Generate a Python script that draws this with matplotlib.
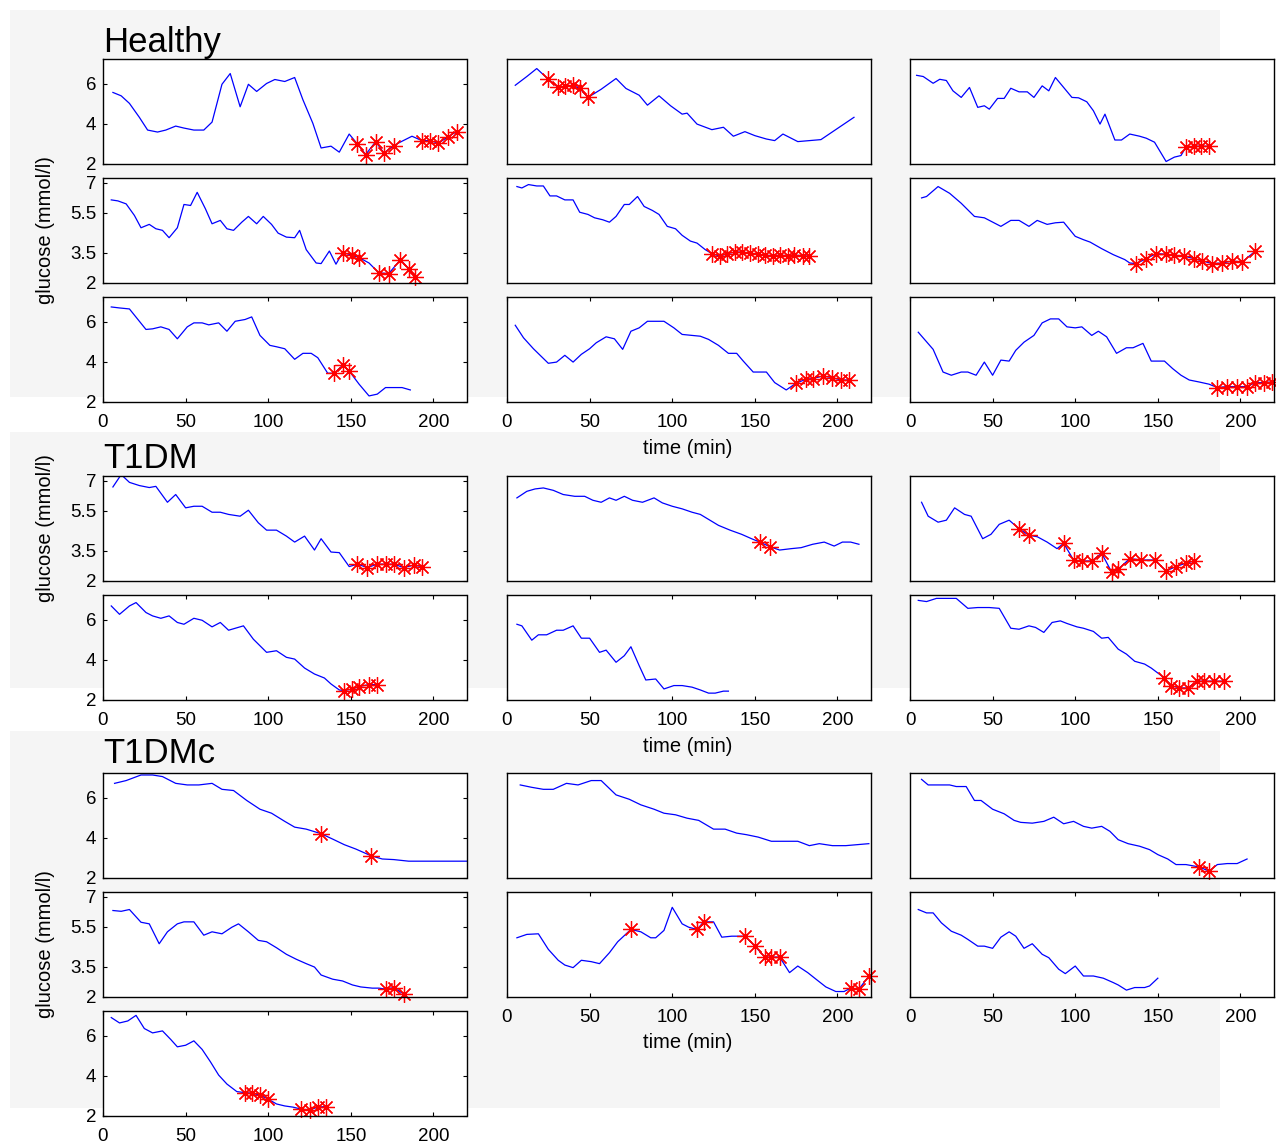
import matplotlib
matplotlib.use("Agg")
import matplotlib.pyplot as plt
from matplotlib.patches import Rectangle

plt.rcParams['font.family'] = ['Liberation Sans', 'DejaVu Sans']

# ---------------- data (time in min, glucose in mmol/l) ----------------
# Healthy
h1_t = [6, 11, 16, 22, 27, 33, 38, 44, 49, 55, 61, 66, 72, 77, 83, 88, 93, 99, 104, 110,
        116, 121, 127, 132, 138, 143, 149, 154, 159, 165, 170, 176, 181, 187, 193, 198, 203, 209, 214]
h1_g = [5.57, 5.4, 5.02, 4.32, 3.68, 3.58, 3.68, 3.88, 3.78, 3.68, 3.68, 4.08, 5.98, 6.52, 4.85, 5.98,
        5.62, 6.02, 6.22, 6.12, 6.32, 5.2, 4.02, 2.78, 2.87, 2.57, 3.48, 2.98, 2.45, 3.1, 2.53, 2.9,
        3.12, 3.37, 3.15, 3.15, 3.02, 3.35, 3.6]
h1_s = [154, 159, 165, 170, 176, 193, 198, 203, 209, 214]

h2_t = [5, 12, 18, 25, 31, 35, 40, 44, 49, 57, 66, 72, 80, 85, 92, 99, 106, 109, 115, 124,
        131, 137, 144, 150, 157, 162, 167, 176, 183, 190, 210]
h2_g = [5.93, 6.37, 6.77, 6.23, 5.82, 5.87, 5.93, 5.77, 5.32, 5.73, 6.27, 5.77, 5.43, 4.93, 5.4,
        4.9, 4.48, 4.53, 3.98, 3.7, 3.82, 3.37, 3.6, 3.4, 3.23, 3.15, 3.48, 3.1, 3.15, 3.2, 4.32]
h2_s = [25, 31, 35, 40, 44, 49]

h3_t = [4, 8, 14, 18, 22, 26, 31, 36, 41, 45, 48, 53, 57, 61, 66, 71, 75, 80, 84, 88, 93, 98,
        102, 107, 111, 115, 118, 124, 128, 133, 139, 143, 148, 155, 160, 164, 167, 172, 176, 181]
h3_g = [6.43, 6.37, 6.03, 6.23, 6.17, 5.65, 5.32, 5.82, 4.82, 4.9, 4.73, 5.27, 5.27, 5.78, 5.6,
        5.6, 5.32, 5.9, 5.65, 6.32, 5.82, 5.32, 5.3, 5.1, 4.65, 3.98, 4.48, 3.18, 3.18, 3.48, 3.37,
        3.27, 3.07, 2.1, 2.32, 2.4, 2.82, 2.87, 2.87, 2.87]
h3_s = [167, 172, 176, 181]

h4_t = [5, 9, 14, 19, 23, 28, 32, 36, 40, 45, 49, 53, 57, 62, 66, 71, 75, 79, 84, 88, 93, 97,
        102, 106, 111, 116, 119, 123, 129, 132, 137, 141, 145, 151, 155, 161, 167, 173, 180, 185, 189]
h4_g = [6.15, 6.1, 5.95, 5.37, 4.75, 4.92, 4.7, 4.62, 4.25, 4.75, 5.92, 5.87, 6.53, 5.7, 4.95,
        5.12, 4.7, 4.62, 5.03, 5.32, 4.95, 5.32, 4.92, 4.48, 4.28, 4.25, 4.62, 3.65, 2.98, 2.95,
        3.58, 2.92, 3.5, 3.37, 3.25, 2.98, 2.48, 2.45, 3.15, 2.7, 2.28]
h4_s = [145, 151, 155, 167, 173, 180, 185, 189]

h5_t = [6, 9, 13, 18, 22, 26, 30, 35, 40, 44, 49, 53, 58, 62, 66, 71, 74, 79, 83, 88, 92, 97,
        102, 106, 111, 115, 120, 124, 129, 133, 138, 142, 147, 152, 156, 161, 165, 170, 174, 179, 183]
h5_g = [6.82, 6.75, 6.92, 6.85, 6.85, 6.35, 6.35, 6.15, 6.15, 5.53, 5.42, 5.25, 5.15, 5.03, 5.32,
        5.92, 5.92, 6.32, 5.82, 5.62, 5.42, 4.82, 4.7, 4.37, 4.08, 3.98, 3.65, 3.45, 3.32, 3.45,
        3.53, 3.53, 3.48, 3.42, 3.37, 3.35, 3.37, 3.35, 3.37, 3.35, 3.32]
h5_s = [124, 129, 133, 138, 142, 147, 152, 156, 161, 165, 170, 174, 179, 183]

h6_t = [7, 10, 17, 24, 31, 39, 45, 55, 61, 66, 72, 77, 83, 88, 93, 100, 105, 109, 116, 123, 130,
        133, 137, 143, 149, 155, 160, 166, 172, 177, 183, 189, 195, 201, 209]
h6_g = [6.25, 6.32, 6.82, 6.48, 5.98, 5.32, 5.25, 4.82, 5.12, 5.12, 4.82, 5.12, 4.92, 5.0, 5.03,
        4.32, 4.15, 4.03, 3.7, 3.4, 3.15, 2.98, 2.95, 3.2, 3.45, 3.42, 3.37, 3.32, 3.2, 3.08, 2.95,
        2.98, 3.08, 3.03, 3.58]
h6_s = [137, 143, 149, 155, 160, 166, 172, 177, 183, 189, 195, 201, 209]

h7_t = [5, 10, 16, 26, 30, 35, 40, 45, 51, 55, 60, 64, 70, 75, 80, 86, 90, 95, 101, 105, 110,
        116, 121, 126, 130, 136, 140, 145, 149, 155, 161, 166, 171, 177, 181, 186]
h7_g = [6.75, 6.7, 6.65, 5.62, 5.65, 5.75, 5.62, 5.15, 5.75, 5.95, 5.95, 5.85, 5.95, 5.53, 6.03,
        6.12, 6.25, 5.32, 4.82, 4.75, 4.65, 4.12, 4.42, 4.42, 4.2, 3.42, 3.42, 3.82, 3.53, 2.87,
        2.28, 2.37, 2.7, 2.7, 2.7, 2.58]
h7_s = [140, 145, 149]

h8_t = [5, 10, 16, 25, 30, 35, 40, 45, 50, 54, 60, 65, 70, 75, 80, 85, 91, 95, 101, 106, 112,
        117, 122, 128, 134, 139, 143, 149, 157, 162, 169, 175, 181, 185, 191, 197, 202, 207]
h8_g = [5.83, 5.2, 4.65, 3.92, 3.98, 4.32, 3.98, 4.37, 4.65, 4.95, 5.25, 5.15, 4.62, 5.53, 5.7,
        6.03, 6.03, 6.03, 5.7, 5.37, 5.32, 5.28, 5.12, 4.82, 4.42, 4.42, 4.03, 3.48, 3.48, 2.95,
        2.58, 2.92, 3.12, 3.15, 3.28, 3.2, 3.08, 3.08]
h8_s = [175, 181, 185, 191, 197, 202, 207]

h9_t = [5, 14, 20, 25, 31, 35, 40, 45, 50, 55, 60, 64, 69, 75, 80, 85, 90, 95, 100, 104, 110,
        114, 119, 125, 131, 135, 141, 146, 154, 159, 164, 169, 175, 181, 186, 192, 198, 204, 209, 214, 219]
h9_g = [5.48, 4.62, 3.48, 3.32, 3.48, 3.48, 3.32, 3.98, 3.32, 4.08, 4.03, 4.57, 4.98, 5.32, 5.95,
        6.15, 6.15, 5.75, 5.7, 5.75, 5.32, 5.53, 5.25, 4.42, 4.7, 4.7, 4.92, 4.03, 4.03, 3.65, 3.32,
        3.08, 2.98, 2.87, 2.7, 2.75, 2.75, 2.75, 2.95, 2.95, 2.98]
h9_s = [186, 192, 198, 204, 209, 214, 219]

# T1DM
d1_t = [6, 11, 16, 22, 28, 32, 39, 44, 50, 55, 60, 66, 71, 76, 83, 88, 94, 99, 105, 111, 116,
        122, 128, 132, 138, 143, 149, 154, 160, 166, 171, 176, 182, 188, 193]
d1_g = [6.7, 7.32, 6.93, 6.77, 6.67, 6.73, 5.93, 6.32, 5.65, 5.73, 5.73, 5.43, 5.43, 5.32, 5.23,
        5.53, 4.9, 4.53, 4.53, 4.23, 3.93, 4.23, 3.53, 4.1, 3.43, 3.4, 2.7, 2.82, 2.65, 2.82, 2.82,
        2.82, 2.65, 2.77, 2.7]
d1_s = [154, 160, 166, 171, 176, 182, 188, 193]

d2_t = [6, 12, 17, 22, 28, 34, 41, 47, 52, 57, 62, 66, 71, 76, 82, 89, 94, 100, 106, 112, 117,
        122, 128, 135, 142, 148, 153, 159, 165, 172, 178, 185, 192, 198, 203, 208, 213]
d2_g = [6.15, 6.48, 6.6, 6.65, 6.53, 6.32, 6.23, 6.23, 6.03, 5.93, 6.15, 6.03, 6.23, 6.03, 5.93,
        6.15, 5.9, 5.73, 5.6, 5.43, 5.32, 5.07, 4.77, 4.53, 4.32, 4.1, 3.93, 3.7, 3.53, 3.6, 3.65,
        3.82, 3.93, 3.73, 3.93, 3.93, 3.82]
d2_s = [153, 159]

d3_t = [7, 11, 17, 22, 27, 33, 37, 44, 49, 54, 60, 66, 72, 77, 83, 89, 93, 99, 104, 110, 116,
        122, 126, 133, 140, 148, 155, 161, 167, 172]
d3_g = [5.93, 5.23, 4.93, 5.03, 5.65, 5.32, 5.23, 4.1, 4.32, 4.82, 5.03, 4.6, 4.27, 4.2, 3.93,
        3.6, 3.87, 3.03, 2.98, 2.98, 3.37, 2.43, 2.57, 3.1, 3.03, 3.03, 2.48, 2.7, 2.87, 2.98]
d3_s = [66, 72, 93, 99, 104, 110, 116, 122, 126, 133, 140, 148, 155, 161, 167, 172]

d4_t = [5, 10, 16, 20, 26, 30, 35, 40, 45, 49, 55, 60, 66, 71, 76, 85, 91, 99, 105, 111, 116,
        122, 128, 134, 138, 143, 146, 151, 155, 161, 166]
d4_g = [6.7, 6.28, 6.7, 6.87, 6.37, 6.2, 6.08, 6.2, 5.87, 5.78, 6.08, 5.98, 5.65, 5.87, 5.48,
        5.7, 5.03, 4.37, 4.45, 4.12, 4.03, 3.58, 3.28, 3.08, 2.78, 2.48, 2.45, 2.53, 2.65, 2.75, 2.75]
d4_s = [146, 151, 155, 161, 166]

d5_t = [6, 9, 15, 19, 24, 30, 34, 40, 45, 50, 56, 60, 66, 71, 75, 80, 84, 90, 95, 101, 106,
        112, 117, 122, 126, 131, 134]
d5_g = [5.78, 5.7, 4.98, 5.25, 5.25, 5.48, 5.48, 5.7, 5.08, 5.08, 4.37, 4.48, 3.87, 4.2, 4.65,
        3.7, 2.98, 3.03, 2.53, 2.7, 2.7, 2.62, 2.48, 2.32, 2.32, 2.42, 2.42]
d5_s = []

d6_t = [5, 10, 16, 23, 28, 35, 41, 48, 54, 61, 66, 72, 76, 81, 86, 91, 95, 101, 105, 111, 116,
        120, 126, 131, 136, 142, 146, 154, 158, 163, 168, 174, 178, 184, 190]
d6_g = [6.98, 6.92, 7.08, 7.08, 7.08, 6.58, 6.62, 6.62, 6.58, 5.58, 5.53, 5.7, 5.62, 5.37, 5.87,
        5.95, 5.82, 5.65, 5.58, 5.42, 5.08, 5.12, 4.53, 4.28, 3.92, 3.78, 3.58, 3.08, 2.7, 2.58,
        2.58, 2.92, 2.92, 2.92, 2.92]
d6_s = [154, 158, 163, 168, 174, 178, 184, 190]

# T1DMc
c1_t = [7, 14, 23, 30, 36, 44, 51, 58, 66, 72, 79, 87, 95, 102, 110, 116, 123, 132, 139, 146,
        153, 162, 169, 176, 185, 202, 211, 220]
c1_g = [6.73, 6.87, 7.15, 7.15, 7.07, 6.73, 6.65, 6.65, 6.73, 6.43, 6.37, 5.87, 5.43, 5.23, 4.82,
        4.53, 4.43, 4.2, 3.93, 3.65, 3.43, 3.1, 2.93, 2.9, 2.82, 2.82, 2.82, 2.82]
c1_s = [132, 162]

c2_t = [8, 15, 22, 28, 36, 43, 51, 57, 66, 74, 81, 89, 95, 102, 109, 116, 125, 132, 139, 145,
        152, 160, 168, 176, 183, 189, 197, 205, 212, 219]
c2_g = [6.65, 6.53, 6.43, 6.43, 6.73, 6.65, 6.87, 6.87, 6.15, 5.93, 5.65, 5.43, 5.23, 5.15, 4.98,
        4.87, 4.43, 4.43, 4.23, 4.15, 4.03, 3.82, 3.82, 3.82, 3.6, 3.7, 3.6, 3.6, 3.65, 3.7]
c2_s = []

c3_t = [7, 11, 17, 24, 28, 34, 39, 43, 50, 57, 63, 67, 74, 81, 87, 93, 99, 105, 110, 116, 121,
        126, 132, 139, 145, 150, 156, 161, 167, 175, 181, 186, 192, 198, 204]
c3_g = [6.93, 6.65, 6.65, 6.65, 6.57, 6.57, 5.87, 5.87, 5.43, 5.2, 4.87, 4.77, 4.73, 4.82, 5.03,
        4.7, 4.82, 4.57, 4.48, 4.57, 4.32, 3.9, 3.7, 3.57, 3.4, 3.15, 2.93, 2.65, 2.65, 2.53, 2.32,
        2.65, 2.7, 2.7, 2.93]
c3_s = [175, 181]

c4_t = [6, 11, 16, 23, 28, 34, 39, 45, 49, 55, 61, 66, 72, 78, 82, 88, 94, 99, 105, 111, 117,
        123, 128, 132, 139, 145, 151, 156, 163, 167, 171, 176, 182]
c4_g = [6.32, 6.28, 6.37, 5.73, 5.65, 4.65, 5.25, 5.65, 5.75, 5.75, 5.08, 5.25, 5.15, 5.48, 5.65,
        5.25, 4.82, 4.75, 4.45, 4.12, 3.87, 3.65, 3.48, 3.08, 2.87, 2.78, 2.58, 2.48, 2.42, 2.42,
        2.37, 2.45, 2.12]
c4_s = [171, 176, 182]

c5_t = [6, 12, 19, 25, 31, 35, 40, 45, 51, 56, 62, 67, 75, 81, 87, 90, 95, 100, 106, 110, 115,
        119, 125, 130, 136, 144, 150, 156, 160, 165, 171, 176, 182, 187, 193, 199, 204, 208, 213, 219]
c5_g = [4.95, 5.12, 5.15, 4.37, 3.82, 3.58, 3.45, 3.82, 3.75, 3.65, 4.2, 4.75, 5.37, 5.25, 4.95,
        4.95, 5.32, 6.48, 5.65, 5.48, 5.37, 5.75, 5.75, 4.98, 5.03, 5.03, 4.53, 3.98, 3.98, 3.98,
        3.2, 3.53, 3.2, 2.87, 2.48, 2.25, 2.25, 2.42, 2.37, 3.03]
c5_s = [75, 115, 119, 144, 150, 156, 160, 165, 208, 213, 219]

c6_t = [5, 10, 14, 19, 25, 31, 35, 41, 45, 50, 55, 60, 64, 69, 74, 80, 84, 90, 94, 100, 105,
        111, 117, 123, 126, 131, 136, 142, 145, 150]
c6_g = [6.37, 6.2, 6.2, 5.7, 5.28, 5.08, 4.87, 4.53, 4.53, 4.42, 4.98, 5.25, 5.03, 4.42, 4.65,
        4.12, 3.95, 3.37, 3.15, 3.53, 3.03, 3.03, 2.92, 2.7, 2.58, 2.32, 2.45, 2.45, 2.53, 2.92]
c6_s = []

c7_t = [5, 10, 15, 20, 25, 30, 36, 41, 45, 50, 55, 60, 65, 70, 75, 81, 86, 90, 95, 100, 105,
        110, 115, 120, 125, 130, 135]
c7_g = [6.92, 6.65, 6.75, 7.03, 6.37, 6.15, 6.25, 5.82, 5.45, 5.53, 5.75, 5.32, 4.7, 4.03, 3.58,
        3.2, 3.15, 3.12, 3.03, 2.82, 2.58, 2.48, 2.42, 2.32, 2.28, 2.42, 2.45]
c7_s = [86, 90, 95, 100, 120, 125, 130, 135]

yt_a = [2, 4, 6]
yt_b = [2, 3.5, 5.5, 7]
xt = [0, 50, 100, 150, 200]

# ---------------- figure ----------------
W, H = 1276, 1144
fig = plt.figure(figsize=(W / 100, H / 100), dpi=100)

for y0, y1 in [(10, 397), (432, 688), (731, 1108)]:
    fig.patches.append(Rectangle((10 / W, 1 - y1 / H), 1210 / W, (y1 - y0) / H,
                                 transform=fig.transFigure, facecolor='#f5f5f5',
                                 edgecolor='none', zorder=-10))

cols = [103, 507, 910]
TICK_FS = 13.5
LAB_FS = 14.5


def panel(col, top, t, g, stars, yt, xlabels):
    ax = fig.add_axes([cols[col] / W, 1 - (top + 104.5) / H, 363.5 / W, 104.5 / H])
    ax.plot(t, g, color='#0000ff', lw=0.9)
    sg = [g[t.index(s)] for s in stars]
    ax.plot(stars, sg, ls='none', marker=(8, 2, 0), ms=12, mec='#ff0000', mew=0.9,
            clip_on=False)
    ax.set_xlim(0, 220)
    ax.set_ylim(2, 7.25)
    for sp in ax.spines.values():
        sp.set_linewidth(1.0)
    if col == 0:
        ax.set_yticks(yt)
        ax.set_yticklabels(['%g' % v for v in yt], fontsize=TICK_FS)
        ax.tick_params(axis='y', direction='in', left=True, right=True, length=3, pad=5)
    else:
        ax.set_yticks([])
    if xlabels:
        ax.set_xticks(xt)
        ax.set_xticklabels([str(v) for v in xt], fontsize=TICK_FS)
        ax.tick_params(axis='x', direction='in', top=True, bottom=True, length=3, pad=9)
    else:
        ax.set_xticks([])
    return ax


# Healthy
panel(0, 59, h1_t, h1_g, h1_s, yt_a, False)
panel(1, 59, h2_t, h2_g, h2_s, yt_a, False)
panel(2, 59, h3_t, h3_g, h3_s, yt_a, False)
panel(0, 178, h4_t, h4_g, h4_s, yt_b, False)
panel(1, 178, h5_t, h5_g, h5_s, yt_b, False)
panel(2, 178, h6_t, h6_g, h6_s, yt_b, False)
panel(0, 297, h7_t, h7_g, h7_s, yt_a, True)
panel(1, 297, h8_t, h8_g, h8_s, yt_a, True)
panel(2, 297, h9_t, h9_g, h9_s, yt_a, True)

# T1DM
panel(0, 476, d1_t, d1_g, d1_s, yt_b, False)
panel(1, 476, d2_t, d2_g, d2_s, yt_b, False)
panel(2, 476, d3_t, d3_g, d3_s, yt_b, False)
panel(0, 595, d4_t, d4_g, d4_s, yt_a, True)
panel(1, 595, d5_t, d5_g, d5_s, yt_a, True)
panel(2, 595, d6_t, d6_g, d6_s, yt_a, True)

# T1DMc
panel(0, 773, c1_t, c1_g, c1_s, yt_a, False)
panel(1, 773, c2_t, c2_g, c2_s, yt_a, False)
panel(2, 773, c3_t, c3_g, c3_s, yt_a, False)
panel(0, 892, c4_t, c4_g, c4_s, yt_b, False)
panel(1, 892, c5_t, c5_g, c5_s, yt_b, True)
panel(2, 892, c6_t, c6_g, c6_s, yt_b, True)
panel(0, 1011, c7_t, c7_g, c7_s, yt_a, True)

# group titles
for name, yb in [('Healthy', 52), ('T1DM', 468), ('T1DMc', 763)]:
    fig.text(103 / W, 1 - yb / H, name, fontsize=25, ha='left', va='baseline')

# axis labels
for yc in [230, 528, 944]:
    fig.text(46 / W, 1 - yc / H, 'glucose (mmol/l)', fontsize=LAB_FS, rotation=90,
             ha='center', va='center')
for yc in [449, 746, 1043]:
    fig.text(688 / W, 1 - yc / H, 'time (min)', fontsize=LAB_FS, ha='center', va='center')

fig.savefig('out.png', dpi=100)
